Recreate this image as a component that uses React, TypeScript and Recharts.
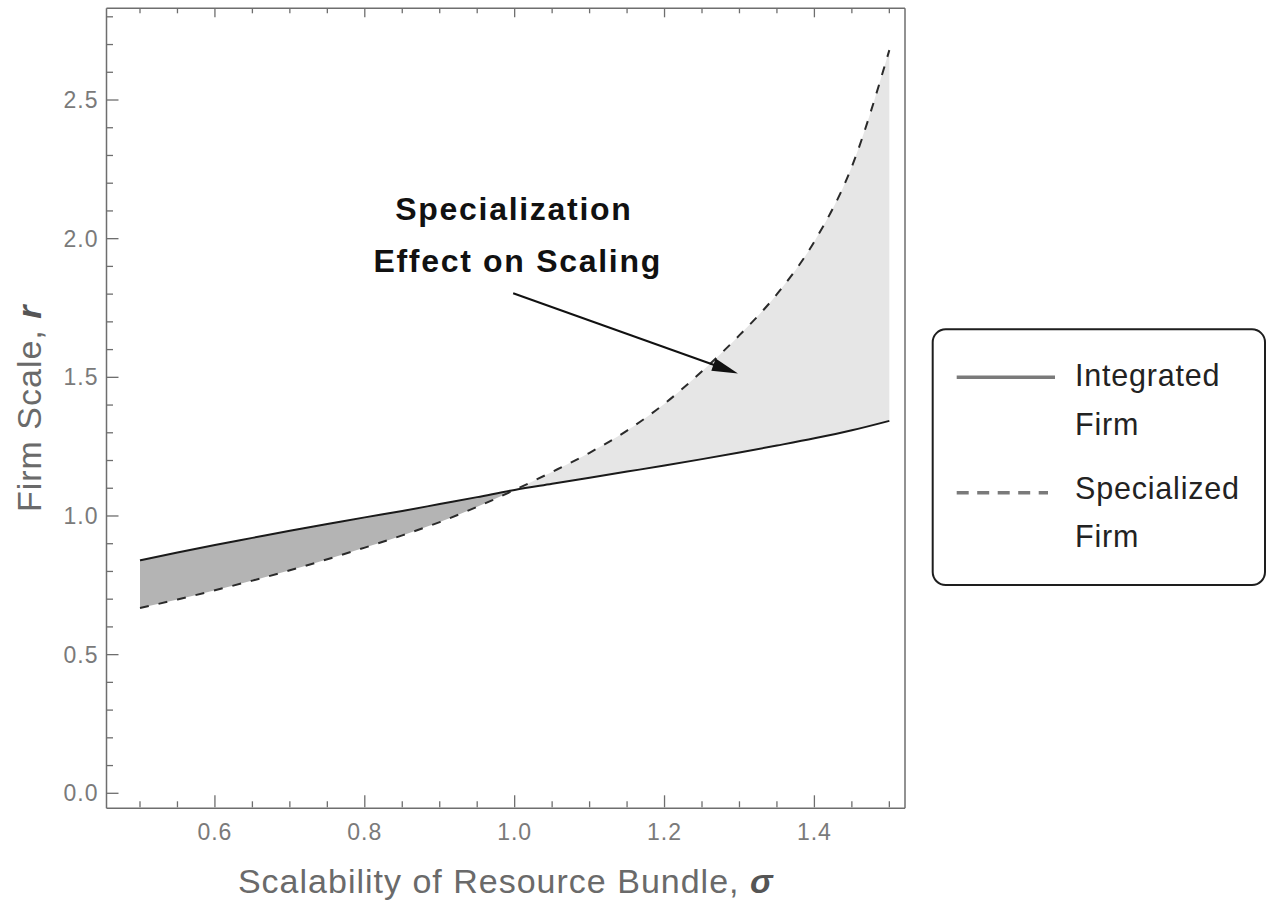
import React from 'react';
import {
  ComposedChart,
  Area,
  Line,
  XAxis,
  YAxis,
  Legend,
  ReferenceLine,
  ReferenceDot,
  Label,
} from 'recharts';

// ---------- data ----------
const sigma = [0.5, 0.55, 0.6, 0.65, 0.7, 0.75, 0.8, 0.85, 0.9, 0.95, 1.0, 1.05, 1.1, 1.15, 1.2, 1.25, 1.3, 1.35, 1.4, 1.45, 1.5];
const integratedFirm = [0.840, 0.868, 0.895, 0.921, 0.947, 0.971, 0.995, 1.018, 1.043, 1.068, 1.094, 1.116, 1.138, 1.160, 1.182, 1.205, 1.229, 1.254, 1.280, 1.309, 1.343];
const specializedFirm = [0.668, 0.699, 0.732, 0.767, 0.804, 0.844, 0.886, 0.930, 0.978, 1.033, 1.094, 1.159, 1.228, 1.308, 1.405, 1.522, 1.652, 1.800, 1.990, 2.260, 2.680];
const seriesNames = ['Integrated Firm', 'Specialized Firm'];
const xMajorTicks = [0.6, 0.8, 1.0, 1.2, 1.4];
const xMinorTicks = [0.5, 0.55, 0.65, 0.7, 0.75, 0.85, 0.9, 0.95, 1.05, 1.1, 1.15, 1.25, 1.3, 1.35, 1.45, 1.5];
const yMajorTicks = [0, 0.5, 1.0, 1.5, 2.0, 2.5];
const yMinorTicks = [0.1, 0.2, 0.3, 0.4, 0.6, 0.7, 0.8, 0.9, 1.1, 1.2, 1.3, 1.4, 1.6, 1.7, 1.8, 1.9, 2.1, 2.2, 2.3, 2.4, 2.6, 2.7, 2.8];
const xTitle = 'Scalability of Resource Bundle, ';
const xTitleSymbol = 'σ';
const yTitle = 'Firm Scale, ';
const yTitleSymbol = 'r';
const annotationLines = ['Specialization', 'Effect on Scaling'];

const xDomain = [0.4553, 1.5209];
const yDomain = [-0.0541, 2.8307];

const rows = sigma.map((s, i) => ({
  s,
  integrated: integratedFirm[i],
  specialized: specializedFirm[i],
  dark: s <= 1.0 ? [specializedFirm[i], integratedFirm[i]] : null,
  light: s >= 1.0 ? [integratedFirm[i], specializedFirm[i]] : null,
}));

const allXTicks = [...xMajorTicks, ...xMinorTicks].sort((a, b) => a - b);
const allYTicks = [...yMajorTicks, ...yMinorTicks].sort((a, b) => a - b);

// ---------- styles ----------
const FONT = '"Liberation Sans", Arial, sans-serif';
const FRAME = '#6e6e6e';
const TICK_TEXT = '#7a7a7a';
const TITLE_TEXT = '#6a6a6a';

const isMajor = (v: number, list: number[]) => list.some((m) => Math.abs(m - v) < 1e-6);

const BottomTick = (props: any) => {
  const { x, y, payload } = props;
  const v = payload.value;
  const major = isMajor(v, xMajorTicks);
  const lineY = y - 16;
  return (
    <g>
      <line x1={x} x2={x} y1={lineY} y2={lineY - (major ? 12 : 6)} stroke={FRAME} strokeWidth={1.3} />
      {major && (
        <text x={x} y={y} dy="0.71em" textAnchor="middle" fill={TICK_TEXT} fontSize={23} letterSpacing={1} fontFamily={FONT}>
          {v.toFixed(1)}
        </text>
      )}
    </g>
  );
};

const TopTick = (props: any) => {
  const { x, y, payload } = props;
  const major = isMajor(payload.value, xMajorTicks);
  return <line x1={x} x2={x} y1={y} y2={y + (major ? 9 : 5)} stroke={FRAME} strokeWidth={1.3} />;
};

const LeftTick = (props: any) => {
  const { x, y, payload } = props;
  const v = payload.value;
  const major = isMajor(v, yMajorTicks);
  return (
    <g>
      <line x1={x} x2={x + (major ? 12 : 6.5)} y1={y} y2={y} stroke={FRAME} strokeWidth={1.3} />
      {major && (
        <text x={x - 8} y={y} dy="0.355em" textAnchor="end" fill={TICK_TEXT} fontSize={23} letterSpacing={1} fontFamily={FONT}>
          {v.toFixed(1)}
        </text>
      )}
    </g>
  );
};

const RightTick = (props: any) => {
  const { x, y, payload } = props;
  const major = isMajor(payload.value, yMajorTicks);
  return <line x1={x} x2={x - (major ? 9 : 4.5)} y1={y} y2={y} stroke={FRAME} strokeWidth={1.3} />;
};

const XTitle = (props: any) => {
  const vb = props.viewBox || {};
  const cx = vb.x + vb.width / 2;
  const y = vb.y + 84.7;
  return (
    <text x={cx} y={y} textAnchor="middle" fill={TITLE_TEXT} fontSize={34} letterSpacing={1} fontFamily={FONT}>
      <tspan>{xTitle}</tspan>
      <tspan fontWeight="bold" fontStyle="italic" fill="#555">{xTitleSymbol}</tspan>
    </text>
  );
};

const YTitle = (props: any) => {
  const vb = props.viewBox || {};
  const cx = vb.x - 5.5;
  const cy = vb.y + vb.height / 2;
  return (
    <text x={cx} y={cy} transform={`rotate(-90, ${cx}, ${cy})`} textAnchor="middle" fill={TITLE_TEXT} fontSize={34} letterSpacing={1} fontFamily={FONT}>
      <tspan>{yTitle}</tspan>
      <tspan fontWeight="bold" fontStyle="italic" fill="#555">{yTitleSymbol}</tspan>
    </text>
  );
};

const ArrowShape = (p: any) => {
  const { x1, y1, x2, y2 } = p;
  const dx = x2 - x1;
  const dy = y2 - y1;
  const len = Math.hypot(dx, dy) || 1;
  const ux = dx / len;
  const uy = dy / len;
  const headLen = 26;
  const headW = 6.5;
  const bx = x2 - ux * headLen;
  const by = y2 - uy * headLen;
  return (
    <g>
      <line x1={x1} y1={y1} x2={bx + ux * 3} y2={by + uy * 3} stroke="#111" strokeWidth={2} />
      <polygon
        points={`${x2},${y2} ${bx - uy * headW},${by + ux * headW} ${bx + uy * headW},${by - ux * headW}`}
        fill="#111"
      />
    </g>
  );
};

const makeTextShape = (text: string) => (p: any) => (
  <text x={p.cx} y={p.cy} textAnchor="middle" fill="#111" fontSize={32} fontWeight="bold" letterSpacing={1.7} fontFamily={FONT}>
    {text}
  </text>
);

const renderLegend = () => {
  const rowsY = [
    { line: 49.3, t1: 58, t2: 107, dash: undefined as string | undefined, x2: 124 },
    { line: 164.7, t1: 171, t2: 219, dash: '12 8.5', x2: 117 },
  ];
  return (
    <svg width={336} height={260} style={{ display: 'block', overflow: 'visible' }}>
      <rect x={1.7} y={1.3} width={332.3} height={255.7} rx={13} ry={13} fill="#fff" stroke="#1e1e1e" strokeWidth={2} />
      {seriesNames.map((name, i) => {
        const words = name.split(' ');
        const r = rowsY[i];
        return (
          <g key={name}>
            <line x1={25.7} x2={r.x2} y1={r.line} y2={r.line} stroke="#7a7a7a" strokeWidth={3.5} strokeDasharray={r.dash} />
            <text x={144} y={r.t1} fill="#222" fontSize={30.5} letterSpacing={0.8} fontFamily={FONT}>{words[0]}</text>
            <text x={144} y={r.t2} fill="#222" fontSize={30.5} letterSpacing={0.8} fontFamily={FONT}>{words.slice(1).join(' ')}</text>
          </g>
        );
      })}
    </svg>
  );
};

export default function App() {
  return (
    <div style={{ width: 1267, height: 905, fontFamily: FONT, background: '#fff' }}>
      <style>{`html, body { margin: 0; padding: 0; overflow: hidden; background: #fff; }`}</style>
      <ComposedChart
        width={1267}
        height={905}
        data={rows}
        margin={{ top: 8.3, right: 362, bottom: 56.7, left: 46.5 }}
      >
        <XAxis
          xAxisId="b"
          dataKey="s"
          type="number"
          orientation="bottom"
          domain={xDomain}
          ticks={allXTicks}
          interval={0}
          height={40}
          tickSize={0}
          tickMargin={15}
          tickLine={false}
          axisLine={{ stroke: FRAME, strokeWidth: 1.5 }}
          tick={<BottomTick />}
        >
          <Label content={<XTitle />} />
        </XAxis>
        <XAxis
          xAxisId="t"
          dataKey="s"
          type="number"
          orientation="top"
          mirror
          domain={xDomain}
          ticks={allXTicks}
          interval={0}
          height={20}
          tickSize={0}
          tickMargin={0}
          tickLine={false}
          axisLine={{ stroke: FRAME, strokeWidth: 1.5 }}
          tick={<TopTick />}
        />
        <YAxis
          yAxisId="l"
          type="number"
          orientation="left"
          domain={yDomain}
          ticks={allYTicks}
          interval={0}
          width={60}
          tickSize={0}
          tickMargin={0}
          tickLine={false}
          axisLine={{ stroke: FRAME, strokeWidth: 1.5 }}
          tick={<LeftTick />}
        >
          <Label content={<YTitle />} />
        </YAxis>
        <YAxis
          yAxisId="r"
          type="number"
          orientation="right"
          mirror
          domain={yDomain}
          ticks={allYTicks}
          interval={0}
          width={20}
          tickSize={0}
          tickMargin={0}
          tickLine={false}
          axisLine={{ stroke: FRAME, strokeWidth: 1.5 }}
          tick={<RightTick />}
        />

        <Area
          xAxisId="b"
          yAxisId="l"
          type="monotone"
          dataKey="dark"
          stroke="none"
          fill="#b4b4b4"
          fillOpacity={1}
          isAnimationActive={false}
          legendType="none"
          activeDot={false}
        />
        <Area
          xAxisId="b"
          yAxisId="l"
          type="monotone"
          dataKey="light"
          stroke="none"
          fill="#e6e6e6"
          fillOpacity={1}
          isAnimationActive={false}
          legendType="none"
          activeDot={false}
        />
        <Line
          xAxisId="b"
          yAxisId="l"
          type="monotone"
          dataKey="integrated"
          name={seriesNames[0]}
          stroke="#1a1a1a"
          strokeWidth={2}
          dot={false}
          activeDot={false}
          isAnimationActive={false}
        />
        <Line
          xAxisId="b"
          yAxisId="l"
          type="monotone"
          dataKey="specialized"
          name={seriesNames[1]}
          stroke="#2a2a2a"
          strokeWidth={2}
          strokeDasharray="9 10"
          dot={false}
          activeDot={false}
          isAnimationActive={false}
        />

        <ReferenceLine
          xAxisId="b"
          yAxisId="l"
          segment={[{ x: 0.998, y: 1.803 }, { x: 1.298, y: 1.514 }]}
          shape={ArrowShape}
        />
        <ReferenceDot xAxisId="b" yAxisId="l" x={0.999} y={2.067} r={0} shape={makeTextShape(annotationLines[0])} />
        <ReferenceDot xAxisId="b" yAxisId="l" x={1.004} y={1.881} r={0} shape={makeTextShape(annotationLines[1])} />

        <Legend
          layout="vertical"
          align="center"
          verticalAlign="middle"
          wrapperStyle={{ left: 931, top: 328, width: 336, height: 260 }}
          content={renderLegend}
        />
      </ComposedChart>
    </div>
  );
}
